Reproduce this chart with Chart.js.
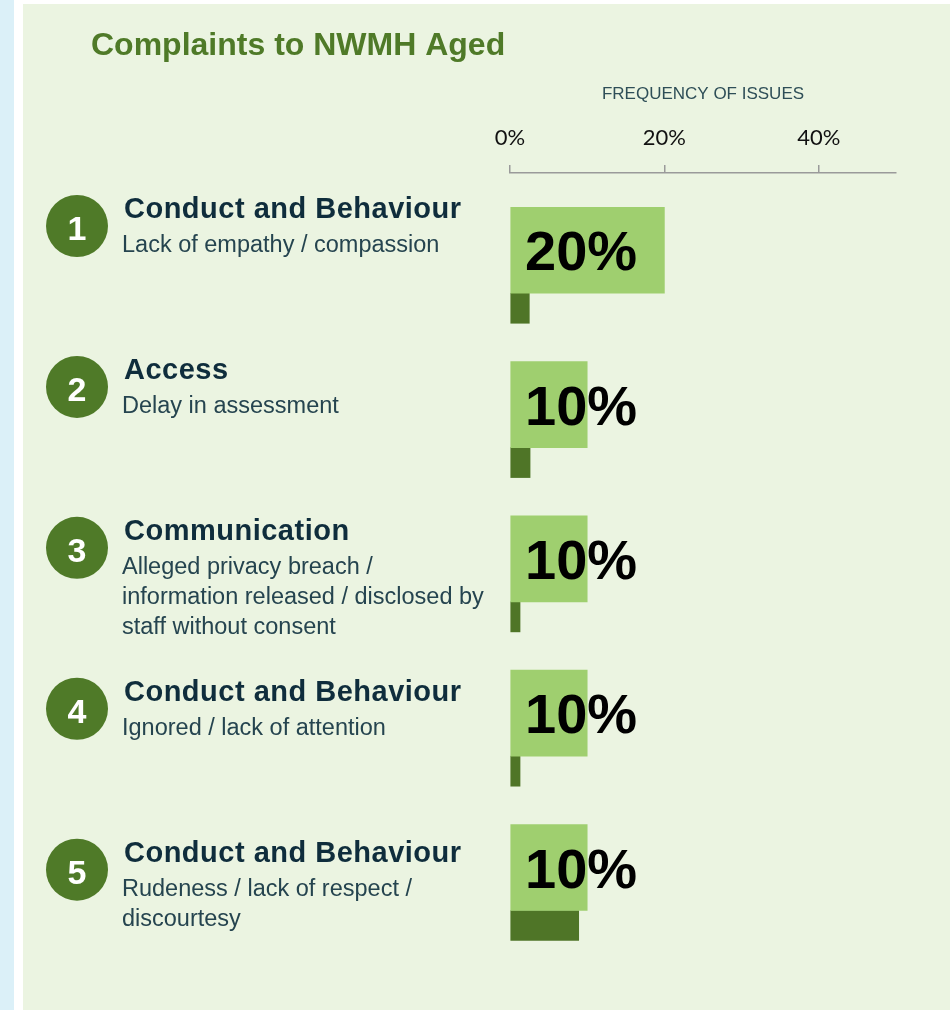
<!DOCTYPE html>
<html>
<head>
<meta charset="utf-8">
<script src="https://cdn.jsdelivr.net/npm/chart.js@4.4.1/dist/chart.umd.min.js"></script>
<style>
    html, body { margin: 0; padding: 0; }
    body { width: 950px; height: 1010px; position: relative; background: #ffffff; overflow: hidden; }
    .strip { position: absolute; left: 0; top: 0; width: 14px; height: 1010px; background: #dbf0f8; }
    .panel { position: absolute; left: 23px; top: 4px; width: 927px; height: 1006px; background: #ebf4e1; }
    .wrap { position: absolute; left: 0; top: 0; width: 950px; height: 1010px; }
</style>
</head>
<body>
<div class="strip"></div>
<div class="panel"></div>
<div class="wrap"><canvas id="complaintsChart"></canvas></div>
<script>
    // Top 5 issues
    const categories = ['Conduct and Behaviour', 'Access', 'Communication', 'Conduct and Behaviour', 'Conduct and Behaviour'];
    const details = [
        ['Lack of empathy / compassion'],
        ['Delay in assessment'],
        ['Alleged privacy breach /', 'information released / disclosed by', 'staff without consent'],
        ['Ignored / lack of attention'],
        ['Rudeness / lack of respect /', 'discourtesy']
    ];

    // Frequency of issues (%)
    const shareOfComplaints = [20, 10, 10, 10, 10];
    const comparisonShare = [2.5, 2.6, 1.3, 1.3, 8.9];

    // Axis ticks (%)
    const xTicks = [0, 20, 40];

    const green = '#4f7a28';

    // Numbered badges, issue names and the big % labels
    const rowTextPlugin = {
        id: 'rowText',
        afterDatasetsDraw(chart) {
            const { ctx, scales } = chart;
            const yText = scales.yText;
            const x0 = scales.x.getPixelForValue(0);
            const bars = chart.getDatasetMeta(0).data;

            ctx.save();
            ctx.fillStyle = '#000000';
            ctx.font = 'bold 56px "Liberation Sans", Arial, sans-serif';
            ctx.textAlign = 'left';
            ctx.textBaseline = 'alphabetic';
            bars.forEach((bar, i) => {
                ctx.fillText(shareOfComplaints[i] + '%', x0 + 15, bar.y + 20);
            });

            categories.forEach((cat, i) => {
                const cy = yText.getPixelForValue(i);

                ctx.beginPath();
                ctx.arc(77, cy, 31, 0, Math.PI * 2);
                ctx.fillStyle = green;
                ctx.fill();

                ctx.fillStyle = '#ffffff';
                ctx.font = 'bold 34px "Liberation Sans", Arial, sans-serif';
                ctx.textAlign = 'center';
                ctx.fillText(String(i + 1), 77, cy + 14);

                ctx.textAlign = 'left';
                ctx.fillStyle = '#0f2d3c';
                ctx.font = 'bold 29px "Liberation Sans", Arial, sans-serif';
                ctx.letterSpacing = '0.5px';
                ctx.fillText(cat, 124, cy - 8);

                ctx.fillStyle = '#25444f';
                ctx.font = '23.5px "Liberation Sans", Arial, sans-serif';
                ctx.letterSpacing = '0px';
                details[i].forEach((line, k) => {
                    ctx.fillText(line, 122, cy + 26 + k * 30);
                });
            });
            ctx.restore();
        }
    };

    const ctx = document.getElementById('complaintsChart').getContext('2d');
    const complaintsChart = new Chart(ctx, {
        type: 'bar',
        data: {
            datasets: [
                {
                    label: 'Frequency of issues',
                    data: shareOfComplaints.map((v, i) => ({ x: v, y: i })),
                    backgroundColor: '#9fcf6f',
                    barThickness: 86
                },
                {
                    label: 'Comparison',
                    data: comparisonShare.map((v, i) => ({ x: v, y: i })),
                    backgroundColor: '#4f7527',
                    barThickness: 30
                }
            ]
        },
        options: {
            indexAxis: 'y',
            responsive: true,
            maintainAspectRatio: false,
            animation: false,
            events: [],
            layout: {
                padding: { left: 91, right: 54, top: 0, bottom: 10 }
            },
            plugins: {
                legend: { display: false },
                tooltip: { enabled: false },
                title: {
                    display: true,
                    text: 'Complaints to NWMH Aged',
                    align: 'start',
                    color: green,
                    font: { family: 'Liberation Sans', size: 32, weight: 'bold' },
                    padding: { top: 27, bottom: 14.5 }
                }
            },
            scales: {
                x: {
                    position: 'top',
                    min: 0,
                    max: 50,
                    afterBuildTicks: s => { s.ticks = xTicks.map(v => ({ value: v })); },
                    afterFit: s => { s.height = 93; },
                    ticks: {
                        callback: v => v + '%',
                        color: '#111111',
                        font: { family: 'Lato', size: 22 },
                        padding: 14,
                        maxRotation: 0
                    },
                    grid: { drawOnChartArea: false, drawTicks: true, tickLength: 8, color: '#9a9a9a', lineWidth: 1.5 },
                    border: { display: true, color: '#9a9a9a', width: 1.5 },
                    title: {
                        display: true,
                        text: 'FREQUENCY OF ISSUES',
                        color: '#2e4e57',
                        font: { family: 'Liberation Sans', size: 17 },
                        padding: { top: 4, bottom: 4 }
                    }
                },
                y: {
                    type: 'linear',
                    reverse: true,
                    offset: false,
                    bounds: 'data',
                    min: -0.78,
                    max: 4.58,
                    afterFit: s => { s.width = 419; },
                    ticks: { display: false },
                    grid: { display: false },
                    border: { display: false }
                },
                yText: {
                    type: 'linear',
                    axis: 'y',
                    position: 'left',
                    display: false,
                    reverse: true,
                    offset: false,
                    bounds: 'data',
                    min: -0.33,
                    max: 4.81
                }
            }
        },
        plugins: [rowTextPlugin]
    });
</script>
</body>
</html>
